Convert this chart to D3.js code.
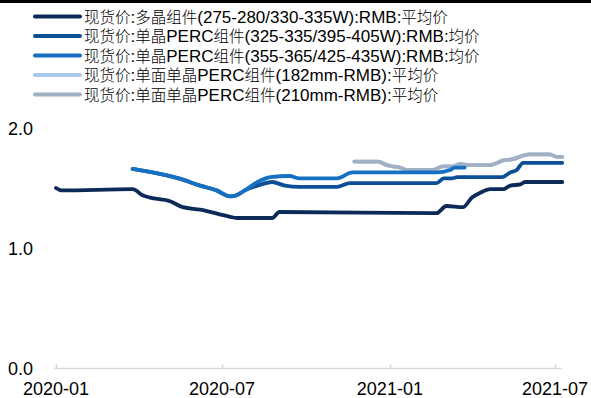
<!DOCTYPE html>
<html><head><meta charset="utf-8">
<script src="https://cdn.jsdelivr.net/npm/d3@7"></script>
<style>
html,body{margin:0;padding:0;background:#fff;}
svg{display:block;}
text{font-family:"Liberation Sans",Arial,"Noto Sans CJK SC",sans-serif;}
</style></head>
<body>
<script>
const seriesNames = [
  "现货价:多晶组件(275-280/330-335W):RMB:平均价",
  "现货价:单晶PERC组件(325-335/395-405W):RMB:均价",
  "现货价:单晶PERC组件(355-365/425-435W):RMB:均价",
  "现货价:单面单晶PERC组件(182mm-RMB):平均价",
  "现货价:单面单晶PERC组件(210mm-RMB):平均价"
];
const seriesColors = ["#0B2A58", "#0C4F95", "#1570C2", "#A8C9EC", "#A1B0C4"];
const xTickLabels = ["2020-01", "2020-07", "2021-01", "2021-07"];
const yTickValues = [0, 1, 2];

const s1Dates = ["2020-01-01","2020-01-07","2020-03-25","2020-04-05","2020-04-13","2020-05-05","2020-05-19","2020-06-07","2020-07-10","2020-07-17","2020-08-25","2020-09-02","2021-02-21","2021-03-04","2021-03-22","2021-04-01","2021-04-10","2021-04-21","2021-05-05","2021-05-13","2021-05-24","2021-05-29","2021-07-09"];
const s1Values = [1.50,1.48,1.49,1.44,1.42,1.39,1.34,1.32,1.26,1.25,1.25,1.30,1.29,1.35,1.34,1.42,1.46,1.49,1.49,1.52,1.53,1.55,1.55];

const s2Dates = ["2020-03-25","2020-04-29","2020-05-19","2020-05-30","2020-06-07","2020-06-25","2020-07-10","2020-07-17","2020-07-26","2020-08-09","2020-08-25","2020-09-08","2020-09-24","2020-11-04","2020-11-18","2021-02-21","2021-03-01","2021-03-10","2021-03-16","2021-05-04","2021-05-13","2021-05-20","2021-05-27","2021-07-09"];
const s2Values = [1.66,1.61,1.57,1.54,1.52,1.48,1.43,1.44,1.48,1.52,1.55,1.52,1.51,1.51,1.54,1.54,1.58,1.58,1.59,1.59,1.63,1.65,1.71,1.71];

const s3Dates = ["2020-03-25","2020-04-29","2020-05-19","2020-05-30","2020-06-07","2020-06-25","2020-07-10","2020-07-17","2020-07-26","2020-08-09","2020-08-23","2020-09-13","2020-09-24","2020-11-04","2020-11-21","2021-02-21","2021-03-08","2021-03-13","2021-03-24"];
const s3Values = [1.66,1.61,1.57,1.54,1.52,1.48,1.43,1.44,1.48,1.55,1.59,1.60,1.58,1.58,1.63,1.63,1.65,1.67,1.67];

const s4Dates = ["2020-11-23","2020-12-19","2020-12-29","2021-01-04","2021-01-12","2021-01-21","2021-02-17","2021-02-28","2021-03-11","2021-03-19","2021-03-30","2021-04-21","2021-04-29","2021-05-05","2021-05-16","2021-05-27","2021-06-03","2021-06-25","2021-07-03","2021-07-09"];
const s4Values = [1.72,1.72,1.69,1.68,1.67,1.65,1.65,1.68,1.68,1.70,1.69,1.69,1.71,1.73,1.74,1.77,1.78,1.78,1.76,1.76];

const s5Dates = ["2020-11-23","2020-12-19","2020-12-29","2021-01-04","2021-01-12","2021-01-21","2021-02-17","2021-02-28","2021-03-11","2021-03-19","2021-03-30","2021-04-21","2021-04-29","2021-05-05","2021-05-16","2021-05-27","2021-06-03","2021-06-25","2021-07-03","2021-07-09"];
const s5Values = [1.72,1.72,1.69,1.68,1.67,1.65,1.65,1.68,1.68,1.70,1.69,1.69,1.71,1.73,1.74,1.77,1.78,1.78,1.76,1.76];

const W = 591, H = 398;
const parse = d3.utcParse("%Y-%m");
const parseD = d3.utcParse("%Y-%m-%d");
const x = d3.scaleUtc().domain([parse("2020-01"), parse("2021-07")]).range([56, 555]);
const y = d3.scaleLinear().domain([0, 2]).range([368, 128]);

const svg = d3.select("body").append("svg").attr("width", W).attr("height", H);
svg.append("rect").attr("x",0).attr("y",0).attr("width",W).attr("height",3).attr("fill","#000");

// axis line
svg.append("line").attr("x1",54).attr("x2",562).attr("y1",368.5).attr("y2",368.5)
  .attr("stroke","#D9D9D9").attr("stroke-width",1.5);
xTickLabels.forEach(t => {
  const px = Math.round(x(parse(t))) + 0.5;
  svg.append("line").attr("x1",px).attr("x2",px).attr("y1",368.5).attr("y2",364)
    .attr("stroke","#D9D9D9").attr("stroke-width",1.5);
  svg.append("text").attr("x", x(parse(t))).attr("y", 394.5).attr("text-anchor","middle")
    .attr("font-size",18).attr("fill","#000").text(t);
});
yTickValues.forEach(v => {
  svg.append("text").attr("x",33).attr("y", y(v) + 6.5).attr("text-anchor","end")
    .attr("font-size",18).attr("fill","#000").text(d3.format(".1f")(v));
});

const allDates = [s1Dates, s2Dates, s3Dates, s4Dates, s5Dates];
const allValues = [s1Values, s2Values, s3Values, s4Values, s5Values];
const line = d3.line().x(d => x(d[0])).y(d => y(d[1])).curve(d3.curveMonotoneX);
const order = [0, 1, 3, 4, 2];
order.forEach(i => {
  const pts = allDates[i].map((d, j) => [parseD(d), allValues[i][j]]);
  svg.append("path").attr("d", line(pts)).attr("fill","none")
    .attr("stroke", seriesColors[i]).attr("stroke-width", 3.8)
    .attr("stroke-linejoin","round").attr("stroke-linecap","round");
});

// legend
const legendY = [16.5, 36, 55.5, 75, 94.5];
seriesNames.forEach((name, i) => {
  const ly = legendY[i];
  svg.append("line").attr("x1",35).attr("x2",80).attr("y1",ly).attr("y2",ly)
    .attr("stroke", seriesColors[i]).attr("stroke-width",4).attr("stroke-linecap","round");
  const t = svg.append("text").attr("x",84).attr("y", ly + 6).attr("fill","#000");
  const parts = name.match(/[\u4e00-\u9fff]+|[^\u4e00-\u9fff]+/g);
  parts.forEach(p => {
    const cjk = /[\u4e00-\u9fff]/.test(p);
    t.append("tspan").attr("font-size", cjk ? 15.5 : 17)
      .style("font-family", cjk ? "'Noto Sans CJK SC', sans-serif" : "'Liberation Sans', Arial, sans-serif")
      .style("font-weight", cjk ? 300 : 400)
      .text(p);
  });
});
</script>
</body></html>
